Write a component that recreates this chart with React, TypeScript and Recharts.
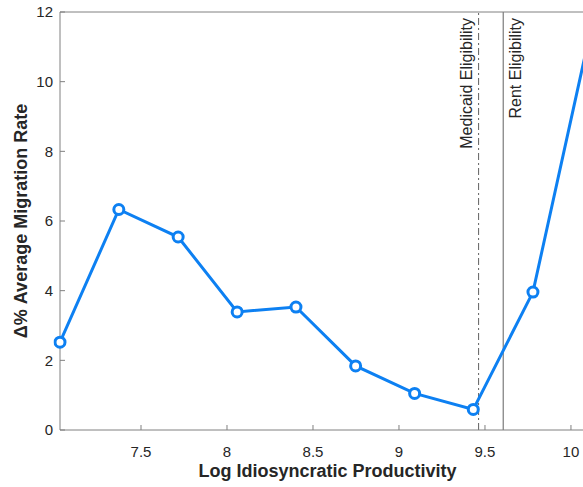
import React from 'react';
import { ComposedChart, Line, XAxis, YAxis, ReferenceLine } from 'recharts';

// log productivity grid and change in average migration rate
const productivity = [7.029, 7.371, 7.716, 8.059, 8.401, 8.748, 9.091, 9.432, 9.779, 10.12];
const migrationChange = [2.52, 6.33, 5.54, 3.39, 3.53, 1.84, 1.05, 0.59, 3.96, 11.6];

const xTicks = [7.5, 8, 8.5, 9, 9.5, 10];
const yTicks = [0, 2, 4, 6, 8, 10, 12];

const medicaidCutoff = 9.463;
const rentCutoff = 9.606;

const FONT = '"Liberation Sans", Arial, Helvetica, sans-serif';
const TEXT = '#262626';
const AXIS = '#808080';
const BLUE = '#0d80f2';

const data = productivity.map((x, i) => ({ x, y: migrationChange[i] }));

const RotatedLabel = ({ viewBox, text, dx }: any) => {
  const x = viewBox.x + dx;
  const y = viewBox.y + 6;
  return (
    <text
      x={x}
      y={y}
      transform={`rotate(-90, ${x}, ${y})`}
      textAnchor="end"
      fontSize={16}
      fontFamily={FONT}
      fill={TEXT}
    >
      {text}
    </text>
  );
};

export default function App() {
  return (
    <div style={{ position: 'absolute', left: 0, top: 0, width: 583, height: 487, overflow: 'hidden', background: '#fff' }}>
      <ComposedChart width={583} height={487} data={data} margin={{ top: 11, right: 0, left: 0, bottom: 0 }}>
        <XAxis
          xAxisId="bottom"
          dataKey="x"
          type="number"
          domain={[7.029, 10.07]}
          allowDataOverflow
          ticks={xTicks}
          height={57}
          stroke={AXIS}
          tickSize={-5}
          tickMargin={21}
          fontSize={15}
          tick={{ fontSize: 15, fontFamily: FONT, fill: TEXT }}
          label={{
            content: ({ viewBox }: any) => (
              <text
                x={viewBox.x + viewBox.width / 2 + 6}
                y={477}
                textAnchor="middle"
                fontSize={18}
                fontWeight="bold"
                fontFamily={FONT}
                fill={TEXT}
              >
                Log Idiosyncratic Productivity
              </text>
            ),
          }}
        />
        <XAxis
          xAxisId="top"
          orientation="top"
          dataKey="x"
          type="number"
          domain={[7.029, 10.07]}
          allowDataOverflow
          ticks={xTicks}
          height={1}
          stroke={AXIS}
          tickSize={-5}
          tick={false}
        />
        <YAxis
          type="number"
          domain={[0, 12]}
          ticks={yTicks}
          width={60}
          stroke={AXIS}
          tickSize={-5}
          tickMargin={12}
          fontSize={15}
          tick={{ fontSize: 15, fontFamily: FONT, fill: TEXT }}
          label={{
            content: ({ viewBox }: any) => {
              const cx = 27;
              const cy = viewBox.y + viewBox.height / 2;
              return (
                <text
                  x={cx}
                  y={cy}
                  transform={`rotate(-90, ${cx}, ${cy})`}
                  textAnchor="middle"
                  fontSize={18}
                  fontWeight="bold"
                  fontFamily={FONT}
                  fill={TEXT}
                >
                  Δ% Average Migration Rate
                </text>
              );
            },
          }}
        />
        <ReferenceLine
          xAxisId="bottom"
          x={medicaidCutoff}
          stroke="#606060"
          strokeWidth={1}
          strokeDasharray="7 3 2 3"
          label={{ content: (p: any) => <RotatedLabel {...p} text="Medicaid Eligibility" dx={-7} /> }}
        />
        <ReferenceLine
          xAxisId="bottom"
          x={rentCutoff}
          stroke="#606060"
          strokeWidth={1}
          label={{ content: (p: any) => <RotatedLabel {...p} text="Rent Eligibility" dx={18} /> }}
        />
        <Line
          xAxisId="bottom"
          type="linear"
          dataKey="y"
          stroke={BLUE}
          strokeWidth={3}
          dot={{ r: 5, fill: '#fff', stroke: BLUE, strokeWidth: 3, clipDot: false }}
          isAnimationActive={false}
        />
      </ComposedChart>
    </div>
  );
}
